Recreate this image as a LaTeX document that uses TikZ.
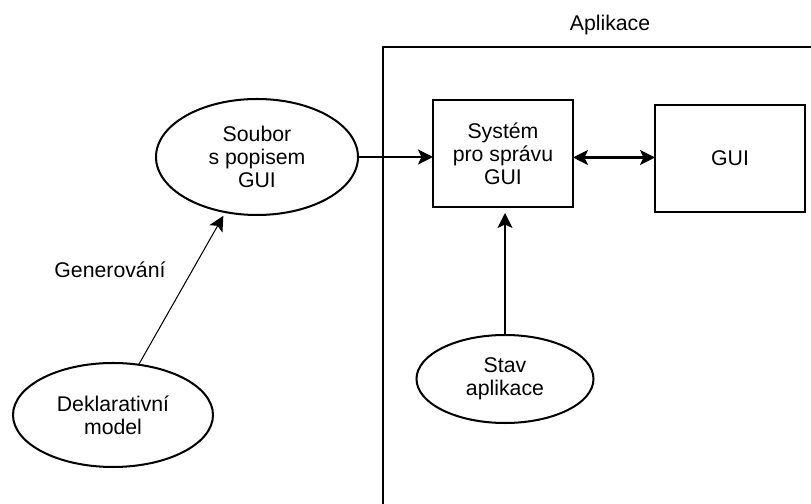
\documentclass[tikz,border=0pt]{standalone}
\usepackage{fontspec}
\setmainfont{Liberation Sans}
\usepackage{tikz}
\usetikzlibrary{positioning,arrows.meta,calc,shapes.geometric}

\begin{document}
\begin{tikzpicture}[
            outer sep=0pt,
            font=\fontsize{12.1}{13.2}\selectfont,
            box/.style={
                draw=black, line width=1.15pt, rectangle, minimum width=2.8cm, minimum height=2.14cm, align=center, inner sep=0pt
            },
            oval/.style={
                draw=black, line width=1.15pt, ellipse, inner sep=0pt, align=center
            },
            conn/.style={-{Stealth[length=0.3cm, width=0.3cm, inset=0.07cm]}, line width=1.15pt},
            dconn/.style={{Stealth[length=0.3cm, width=0.3cm, inset=0.07cm]}-{Stealth[length=0.3cm, width=0.3cm, inset=0.07cm]}, line width=1.15pt}
        ]
            \useasboundingbox (0,0) rectangle (16.22,10.08);
            \clip (0,0) rectangle (16.22,10.08);

            % --- APLIKACE (ramecek presahuje okraj) ---
            \node[draw=black, line width=1.15pt, minimum width=9cm, minimum height=10cm, anchor=north west] (app) at (7.66,9.14) {};
            \node (applabel) at (12.2,9.58) {Aplikace};

            % --- UVNITR APLIKACE ---
            \node[box] (sys) at (10.06,7.01) {Systém\\pro správu\\GUI};
            \node[box, minimum width=3cm] (gui) at (14.6,6.91) {GUI};
            \node[oval, minimum width=3.54cm, minimum height=1.76cm] (stav) at (10.1,2.5) {Stav\\aplikace};

            % --- MIMO APLIKACI ---
            \node[oval, minimum width=4.04cm, minimum height=2.32cm] (soubor) at (5.14,6.94) {Soubor\\s popisem\\GUI};
            \node[oval, minimum width=4cm, minimum height=2.08cm] (model) at (2.26,1.78) {Deklarativní\\model};
            \node (gen) at (2.2,4.68) {Generování};

            % SIPKY
            \coordinate (sysdl) at ([yshift=-0.08cm]sys.east);
            \draw[conn] (soubor.east) -- (soubor.east -| sys.west);
            \draw[dconn] (sysdl) -- (sysdl -| gui.west);
            \draw[conn] (stav.north) -- ([yshift=-0.12cm]stav.north |- sys.south);
            \draw[conn, line width=0.6pt] (model.63) -- ([shift={(0.08,-0.1)}]soubor.235);

        \end{tikzpicture}
\end{document}
